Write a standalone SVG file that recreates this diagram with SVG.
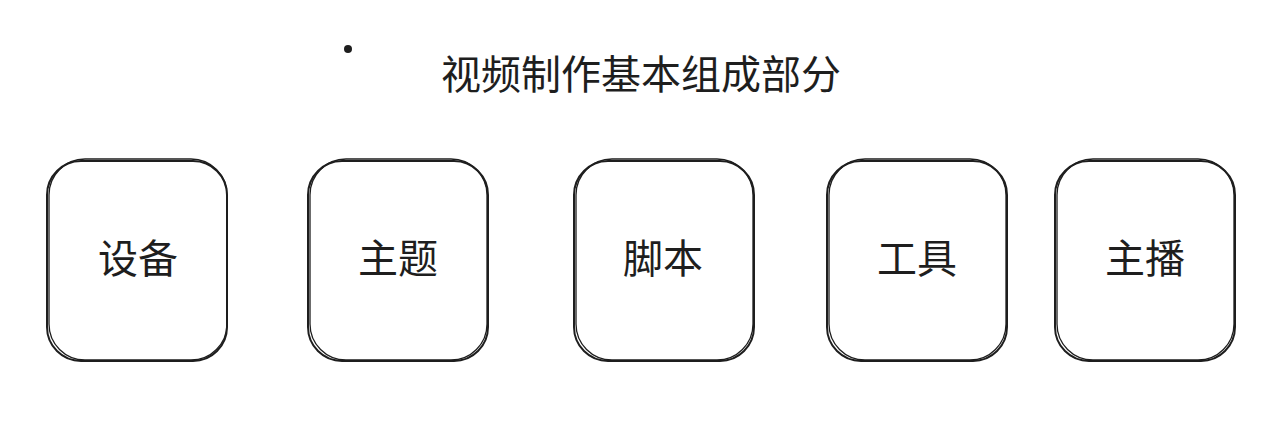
<svg xmlns="http://www.w3.org/2000/svg" width="1284" height="444" viewBox="0 0 1284 444">
<style>
.b{fill:none;stroke:#1e1e1e;stroke-width:2;stroke-linecap:round}
.b2{fill:none;stroke:#1e1e1e;stroke-width:1.3;stroke-linecap:round}
.t{font-family:"Noto Sans CJK SC","Noto Sans",sans-serif;font-size:40px;fill:#1e1e1e;text-anchor:middle;dominant-baseline:central}
</style>
<rect width="1284" height="444" fill="#ffffff"/>
<g id="dot"><circle cx="348" cy="49" r="4" fill="#1e1e1e"/></g>
<g id="title"><text class="t" x="641" y="72">视频制作基本组成部分</text></g>
<g id="n1">
<rect class="b" x="47" y="161" width="180" height="200" rx="34"/>
<rect class="b2" x="49" y="159" width="178" height="201" rx="36"/>
<text class="t" x="138" y="256">设备</text>
</g>
<g id="n2">
<rect class="b" x="308" y="161" width="180" height="200" rx="34"/>
<rect class="b2" x="310" y="159" width="177" height="201" rx="36"/>
<text class="t" x="398" y="256">主题</text>
</g>
<g id="n3">
<rect class="b" x="574" y="161" width="180" height="200" rx="34"/>
<rect class="b2" x="576" y="159" width="177" height="201" rx="36"/>
<text class="t" x="663" y="256">脚本</text>
</g>
<g id="n4">
<rect class="b" x="827" y="161" width="180" height="200" rx="34"/>
<rect class="b2" x="829" y="159" width="177" height="201" rx="36"/>
<text class="t" x="917" y="256">工具</text>
</g>
<g id="n5">
<rect class="b" x="1055" y="161" width="180" height="200" rx="34"/>
<rect class="b2" x="1057" y="159" width="177" height="201" rx="36"/>
<text class="t" x="1145" y="256">主播</text>
</g>
<g id="connectors"></g>
</svg>
